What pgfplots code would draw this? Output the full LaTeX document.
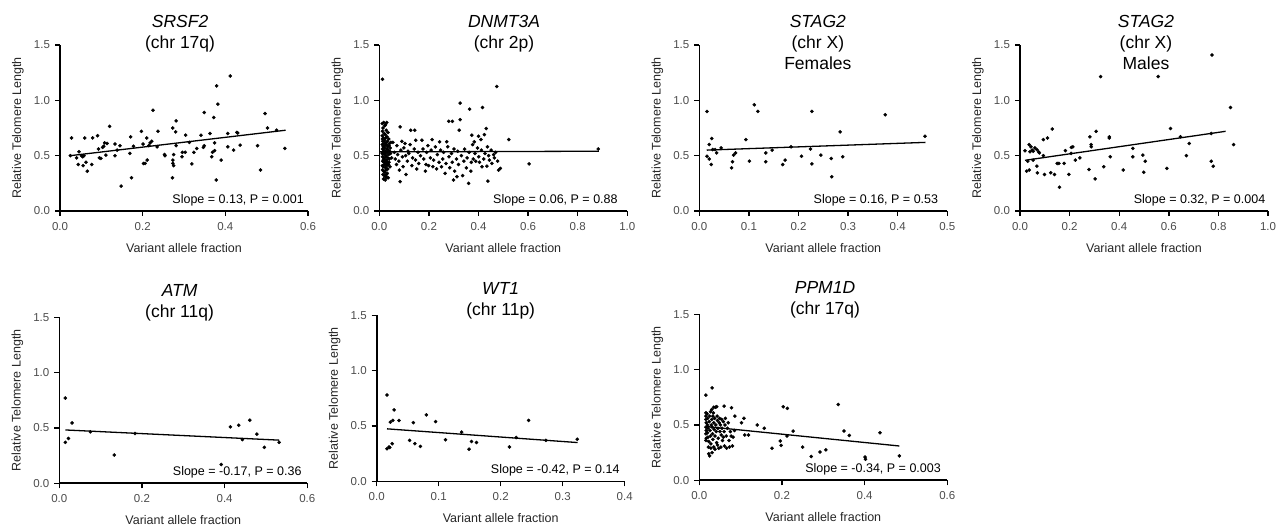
\documentclass[border=0pt]{standalone}
\usepackage{fontspec}
\setmainfont{Liberation Sans}
\usepackage{pgfplots}
\pgfplotsset{compat=1.18}

\pgfplotsset{
  panel/.style={
    width=248pt, height=166pt, scale only axis, anchor=south west,
    xmin=0, ymin=0, ymax=1.5, ytick={0,0.5,1,1.5},
    axis lines=left, axis line style={-, line width=1.6pt},
    tick align=outside, major tick length=5pt,
    tick style={line width=1.4pt, black},
    /pgf/number format/assume math mode=true,
    tick label style={font=\fontsize{11.5}{13}\selectfont, text=black!70},
    xticklabel style={/pgf/number format/fixed, /pgf/number format/fixed zerofill,
      /pgf/number format/precision=1, yshift=-3pt},
    yticklabel style={/pgf/number format/fixed, /pgf/number format/fixed zerofill,
      /pgf/number format/precision=1, xshift=-1.5pt},
    xlabel={Variant allele fraction}, ylabel={Relative Telomere Length},
    label style={font=\fontsize{12.5}{14}\selectfont, text=black!85},
    xlabel style={at={([yshift=-37pt]axis description cs:0.5,0)}, anchor=center},
    ylabel style={at={([xshift=-42pt]axis description cs:0,0.5)}, anchor=center},
    clip=false,
  },
  dots/.style={only marks, mark=*, mark size=1.6pt, black},
  fit/.style={black, line width=1.3pt, no marks},
}
\tikzset{
  ttl/.style={font=\fontsize{17.5}{20}\selectfont, anchor=center, inner sep=0pt},
  ttli/.style={font=\fontsize{17.5}{20}\selectfont\itshape, anchor=center, inner sep=0pt},
  slope/.style={font=\fontsize{12.5}{14}\selectfont, anchor=east, inner sep=0pt},
}

\begin{document}
\begin{tikzpicture}
\path[use as bounding box] (0pt,0pt) rectangle (1284pt,527pt);

% ---------- SRSF2
\begin{axis}[panel, at={(60pt,316pt)}, xmax=0.6, xtick={0,0.2,0.4,0.6}]
\addplot[dots] table {
x y
0.028 0.66
0.025 0.50
0.040 0.48
0.046 0.535
0.044 0.42
0.052 0.50
0.055 0.49
0.056 0.41
0.060 0.66
0.063 0.44
0.066 0.36
0.058 0.50
0.079 0.66
0.077 0.42
0.091 0.68
0.093 0.56
0.095 0.48
0.099 0.475
0.103 0.575
0.106 0.585
0.108 0.615
0.114 0.61
0.111 0.505
0.120 0.765
0.133 0.605
0.133 0.50
0.138 0.55
0.145 0.59
0.148 0.225
0.169 0.52
0.171 0.67
0.173 0.30
0.178 0.585
0.197 0.72
0.201 0.605
0.202 0.43
0.206 0.43
0.210 0.66
0.211 0.46
0.215 0.59
0.218 0.615
0.222 0.63
0.225 0.91
0.235 0.58
0.237 0.72
0.253 0.51
0.254 0.50
0.273 0.75
0.280 0.715
0.281 0.815
0.275 0.51
0.273 0.46
0.273 0.43
0.275 0.41
0.272 0.30
0.281 0.59
0.295 0.49
0.296 0.53
0.303 0.53
0.304 0.685
0.313 0.62
0.319 0.425
0.324 0.53
0.331 0.565
0.341 0.685
0.347 0.575
0.349 0.89
0.349 0.59
0.363 0.70
0.367 0.49
0.369 0.53
0.372 0.845
0.374 0.615
0.374 0.545
0.378 0.28
0.379 1.13
0.382 0.965
0.390 0.46
0.406 0.70
0.406 0.58
0.412 1.22
0.420 0.55
0.428 0.71
0.430 0.705
0.436 0.595
0.478 0.59
0.485 0.37
0.496 0.88
0.502 0.75
0.524 0.73
0.544 0.565
};
\addplot[fit] coordinates {(0.025,0.50) (0.546,0.73)};
\node[ttli] at ([yshift=23.5pt]rel axis cs:0.484,1) {SRSF2};
\node[ttl] at ([yshift=1pt]rel axis cs:0.484,1) {(chr 17q)};
\node[slope] at ([xshift=-4pt]rel axis cs:1,0.066) {Slope = 0.13, P = 0.001};
\end{axis}

% ---------- DNMT3A
\begin{axis}[panel, at={(379.3pt,316pt)}, xmax=1, xtick={0,0.2,0.4,0.6,0.8,1}]
\addplot[dots] table {
x y
0.013 1.19
0.012 0.79
0.018 0.80
0.022 0.77
0.015 0.75
0.025 0.78
0.030 0.80
0.013 0.72
0.020 0.70
0.028 0.73
0.035 0.71
0.012 0.68
0.017 0.66
0.024 0.69
0.031 0.67
0.038 0.65
0.014 0.63
0.021 0.64
0.027 0.62
0.033 0.63
0.041 0.61
0.012 0.60
0.016 0.58
0.019 0.61
0.023 0.59
0.029 0.60
0.034 0.58
0.039 0.59
0.044 0.57
0.013 0.56
0.018 0.55
0.022 0.57
0.026 0.54
0.031 0.56
0.036 0.55
0.042 0.54
0.012 0.52
0.015 0.53
0.020 0.51
0.024 0.52
0.028 0.50
0.033 0.53
0.038 0.51
0.045 0.52
0.013 0.49
0.017 0.48
0.021 0.47
0.026 0.49
0.030 0.46
0.035 0.48
0.040 0.47
0.014 0.45
0.019 0.44
0.023 0.45
0.027 0.43
0.032 0.44
0.037 0.42
0.012 0.41
0.016 0.40
0.021 0.42
0.025 0.39
0.030 0.41
0.034 0.38
0.043 0.40
0.013 0.37
0.018 0.36
0.022 0.35
0.027 0.37
0.032 0.34
0.015 0.33
0.020 0.32
0.025 0.31
0.029 0.33
0.036 0.30
0.017 0.29
0.024 0.28
0.031 0.30
0.013 0.65
0.026 0.66
0.016 0.46
0.039 0.44
0.047 0.62
0.050 0.48
0.055 0.62
0.061 0.53
0.064 0.47
0.069 0.42
0.071 0.59
0.074 0.51
0.079 0.45
0.081 0.37
0.084 0.76
0.084 0.265
0.087 0.55
0.091 0.63
0.093 0.49
0.096 0.40
0.099 0.57
0.104 0.61
0.106 0.50
0.108 0.33
0.113 0.45
0.116 0.54
0.119 0.52
0.124 0.60
0.127 0.73
0.131 0.41
0.134 0.48
0.141 0.56
0.143 0.73
0.146 0.46
0.147 0.64
0.151 0.38
0.156 0.53
0.159 0.43
0.166 0.50
0.172 0.64
0.176 0.56
0.179 0.47
0.186 0.36
0.188 0.42
0.191 0.53
0.196 0.59
0.199 0.41
0.206 0.48
0.209 0.55
0.213 0.645
0.216 0.40
0.219 0.46
0.226 0.58
0.231 0.38
0.234 0.51
0.241 0.44
0.243 0.625
0.247 0.55
0.251 0.40
0.256 0.47
0.259 0.53
0.265 0.34
0.269 0.43
0.272 0.625
0.276 0.58
0.280 0.81
0.281 0.49
0.284 0.39
0.291 0.52
0.295 0.81
0.294 0.44
0.299 0.28
0.301 0.56
0.304 0.36
0.311 0.47
0.313 0.31
0.316 0.54
0.319 0.42
0.322 0.73
0.326 0.975
0.326 0.825
0.331 0.50
0.336 0.32
0.341 0.45
0.344 0.56
0.351 0.39
0.354 0.48
0.360 0.25
0.362 0.53
0.364 0.92
0.369 0.36
0.371 0.44
0.373 0.685
0.376 0.60
0.379 0.47
0.383 0.625
0.386 0.52
0.389 0.45
0.396 0.57
0.400 0.675
0.401 0.49
0.404 0.44
0.410 0.645
0.412 0.55
0.414 0.40
0.416 0.935
0.421 0.47
0.424 0.69
0.426 0.52
0.431 0.745
0.434 0.405
0.436 0.58
0.438 0.27
0.441 0.50
0.444 0.46
0.451 0.55
0.454 0.43
0.461 0.51
0.464 0.48
0.469 0.53
0.474 1.125
0.477 0.45
0.481 0.37
0.488 0.385
0.522 0.645
0.604 0.425
0.883 0.56
};
\addplot[fit] coordinates {(0.003,0.534) (0.885,0.54)};
\node[ttli] at ([yshift=23.5pt]rel axis cs:0.503,1) {DNMT3A};
\node[ttl] at ([yshift=1pt]rel axis cs:0.503,1) {(chr 2p)};
\node[slope] at ([xshift=-9.5pt]rel axis cs:1,0.066) {Slope = 0.06, P = 0.88};
\end{axis}

% ---------- STAG2 females
\begin{axis}[panel, at={(699.3pt,316pt)}, xmax=0.5, xtick={0,0.1,0.2,0.3,0.4,0.5}]
\addplot[dots] table {
x y
0.0155 0.90
0.0155 0.495
0.020 0.60
0.020 0.47
0.025 0.655
0.024 0.42
0.027 0.555
0.032 0.555
0.035 0.525
0.044 0.57
0.065 0.39
0.067 0.445
0.069 0.505
0.073 0.525
0.094 0.645
0.101 0.45
0.111 0.96
0.118 0.90
0.134 0.525
0.134 0.445
0.147 0.55
0.168 0.42
0.173 0.46
0.185 0.58
0.206 0.495
0.224 0.56
0.227 0.425
0.227 0.90
0.245 0.505
0.266 0.475
0.267 0.31
0.284 0.715
0.289 0.49
0.375 0.87
0.455 0.675
};
\addplot[fit] coordinates {(0.015,0.55) (0.456,0.62)};
\node[ttli] at ([yshift=23.5pt]rel axis cs:0.478,1) {STAG2};
\node[ttl] at ([yshift=1pt]rel axis cs:0.478,1) {(chr X)};
\node[ttl] at ([yshift=-18pt]rel axis cs:0.478,1) {Females};
\node[slope] at ([xshift=-9pt]rel axis cs:1,0.066) {Slope = 0.16, P = 0.53};
\end{axis}

% ---------- STAG2 males
\begin{axis}[panel, at={(1020pt,316pt)}, xmax=1, xtick={0,0.2,0.4,0.6,0.8,1}]
\addplot[dots] table {
x y
0.020 0.545
0.037 0.60
0.044 0.58
0.040 0.535
0.049 0.55
0.053 0.54
0.060 0.57
0.068 0.555
0.075 0.535
0.078 0.525
0.031 0.45
0.053 0.46
0.027 0.36
0.037 0.37
0.068 0.405
0.070 0.345
0.094 0.50
0.094 0.645
0.111 0.66
0.099 0.33
0.130 0.74
0.124 0.345
0.139 0.33
0.150 0.43
0.157 0.43
0.159 0.215
0.178 0.43
0.183 0.545
0.197 0.33
0.207 0.575
0.213 0.58
0.206 0.52
0.223 0.46
0.241 0.48
0.278 0.375
0.282 0.67
0.287 0.60
0.287 0.58
0.303 0.29
0.307 0.72
0.325 1.215
0.338 0.40
0.360 0.67
0.360 0.66
0.364 0.49
0.416 0.37
0.455 0.565
0.455 0.49
0.495 0.505
0.499 0.35
0.505 0.45
0.557 1.215
0.592 0.385
0.607 0.745
0.647 0.67
0.671 0.50
0.682 0.61
0.774 1.41
0.771 0.70
0.771 0.45
0.779 0.405
0.849 0.935
0.861 0.60
};
\addplot[fit] coordinates {(0.02,0.458) (0.829,0.72)};
\node[ttli] at ([yshift=23.5pt]rel axis cs:0.508,1) {STAG2};
\node[ttl] at ([yshift=1pt]rel axis cs:0.508,1) {(chr X)};
\node[ttl] at ([yshift=-18pt]rel axis cs:0.508,1) {Males};
\node[slope] at ([xshift=-2.6pt]rel axis cs:1,0.066) {Slope = 0.32, P = 0.004};
\end{axis}

% ---------- ATM
\begin{axis}[panel, at={(59.3pt,43.7pt)}, xmax=0.6, xtick={0,0.2,0.4,0.6}]
\addplot[dots] table {
x y
0.0145 0.77
0.0145 0.37
0.022 0.405
0.031 0.545
0.075 0.465
0.133 0.255
0.183 0.45
0.392 0.17
0.414 0.51
0.434 0.525
0.443 0.395
0.461 0.57
0.478 0.445
0.496 0.325
0.532 0.37
};
\addplot[fit] coordinates {(0.0145,0.482) (0.532,0.39)};
\node[ttli] at ([yshift=26.5pt]rel axis cs:0.485,1) {ATM};
\node[ttl] at ([yshift=4pt]rel axis cs:0.485,1) {(chr 11q)};
\node[slope] at ([xshift=-5.6pt]rel axis cs:1,0.068) {Slope = -0.17, P = 0.36};
\end{axis}

% ---------- WT1
\begin{axis}[panel, at={(376.7pt,45.7pt)}, xmax=0.4, xtick={0,0.1,0.2,0.3,0.4}]
\addplot[dots] table {
x y
0.0166 0.78
0.0166 0.295
0.020 0.31
0.021 0.305
0.022 0.535
0.026 0.55
0.025 0.34
0.028 0.645
0.036 0.55
0.053 0.37
0.059 0.53
0.0615 0.34
0.0705 0.315
0.080 0.60
0.095 0.54
0.111 0.375
0.137 0.445
0.149 0.29
0.153 0.36
0.161 0.35
0.214 0.31
0.225 0.395
0.245 0.55
0.273 0.37
0.3235 0.38
};
\addplot[fit] coordinates {(0.0166,0.474) (0.324,0.35)};
\node[ttli] at ([yshift=26.5pt]rel axis cs:0.50,1) {WT1};
\node[ttl] at ([yshift=4pt]rel axis cs:0.50,1) {(chr 11p)};
\node[slope] at ([xshift=-5pt]rel axis cs:1,0.068) {Slope = -0.42, P = 0.14};
\end{axis}

% ---------- PPM1D
\begin{axis}[panel, at={(699.3pt,46.7pt)}, xmax=0.6, xtick={0,0.2,0.4,0.6}]
\addplot[dots] table {
x y
0.016 0.77
0.031 0.835
0.035 0.66
0.042 0.665
0.060 0.67
0.078 0.655
0.086 0.58
0.102 0.52
0.108 0.56
0.110 0.41
0.119 0.41
0.140 0.50
0.157 0.47
0.176 0.29
0.196 0.355
0.198 0.315
0.203 0.665
0.213 0.65
0.212 0.40
0.227 0.445
0.250 0.30
0.271 0.215
0.292 0.255
0.306 0.275
0.336 0.685
0.350 0.445
0.363 0.405
0.401 0.21
0.402 0.19
0.437 0.43
0.484 0.22
0.016 0.61
0.016 0.58
0.016 0.55
0.017 0.52
0.016 0.48
0.017 0.45
0.016 0.42
0.017 0.38
0.016 0.36
0.019 0.60
0.020 0.56
0.020 0.50
0.021 0.47
0.020 0.43
0.021 0.39
0.022 0.30
0.023 0.24
0.025 0.22
0.024 0.53
0.025 0.58
0.026 0.45
0.027 0.40
0.028 0.29
0.029 0.50
0.030 0.55
0.030 0.64
0.031 0.48
0.032 0.42
0.033 0.37
0.034 0.61
0.035 0.52
0.035 0.30
0.036 0.46
0.037 0.56
0.038 0.40
0.039 0.66
0.040 0.50
0.041 0.44
0.042 0.34
0.043 0.58
0.044 0.54
0.045 0.47
0.046 0.38
0.047 0.29
0.048 0.52
0.049 0.56
0.050 0.44
0.051 0.50
0.052 0.30
0.053 0.41
0.054 0.55
0.055 0.47
0.056 0.36
0.058 0.53
0.060 0.44
0.061 0.31
0.062 0.50
0.063 0.56
0.065 0.40
0.066 0.29
0.068 0.47
0.070 0.52
0.072 0.36
0.073 0.30
0.075 0.44
0.077 0.40
0.080 0.31
0.082 0.39
0.085 0.45
0.023 0.35
0.028 0.33
0.031 0.25
0.027 0.62
0.033 0.58
0.038 0.28
0.044 0.32
0.058 0.39
};
\addplot[fit] coordinates {(0.016,0.486) (0.484,0.31)};
\node[ttli] at ([yshift=26.5pt]rel axis cs:0.507,1) {PPM1D};
\node[ttl] at ([yshift=4pt]rel axis cs:0.507,1) {(chr 17q)};
\node[slope] at ([xshift=-6.3pt]rel axis cs:1,0.068) {Slope = -0.34, P = 0.003};
\end{axis}
\end{tikzpicture}
\end{document}
